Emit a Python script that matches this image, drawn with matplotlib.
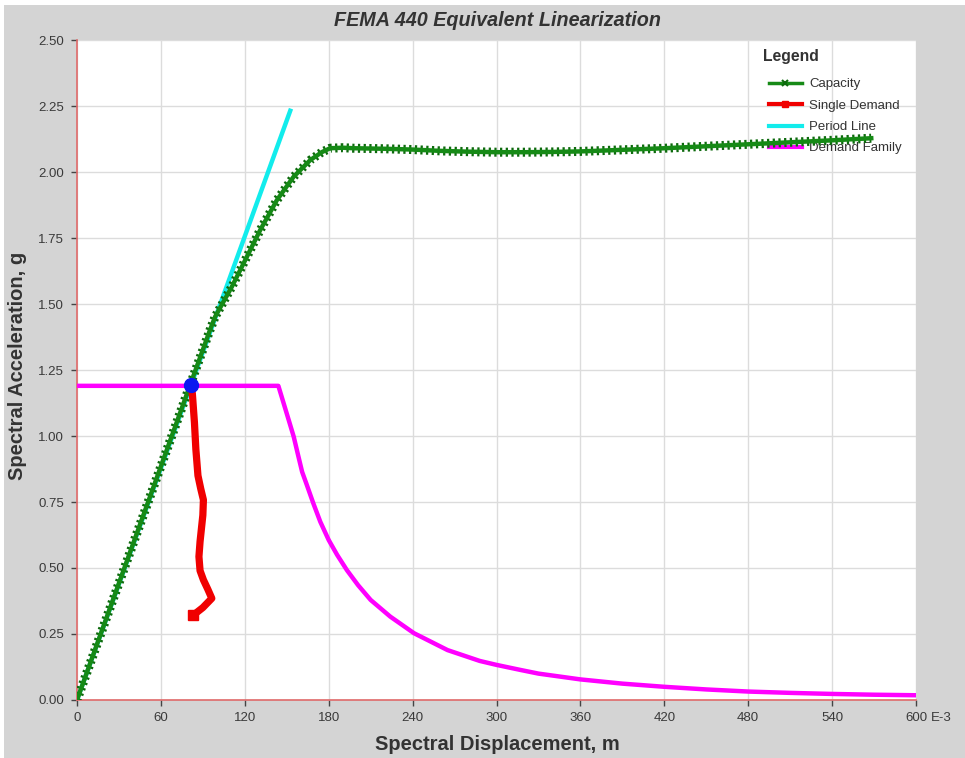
import matplotlib
matplotlib.use("Agg")
import matplotlib.pyplot as plt
from matplotlib.lines import Line2D
from matplotlib.patches import Rectangle

plt.rcParams['font.family'] = ['Liberation Sans', 'DejaVu Sans']

# ---------------- data (Sd in mm = E-3 m, Sa in g) ----------------
cap_sd = [0, 20, 40, 60, 80, 95, 98.8, 110.8, 121.5, 131, 143, 154.9, 166.8, 175,
          181, 190, 198, 220, 240, 260, 280, 300, 320, 340, 360, 380, 400, 420,
          440, 460, 480, 500, 520, 540, 568]
cap_sa = [0, 0.295, 0.59, 0.885, 1.18, 1.40, 1.452, 1.566, 1.679, 1.78, 1.894, 1.982,
          2.045, 2.075, 2.09, 2.092, 2.09, 2.088, 2.085, 2.08, 2.077, 2.075, 2.075,
          2.076, 2.078, 2.082, 2.086, 2.09, 2.095, 2.10, 2.105, 2.11, 2.115, 2.12, 2.128]

single_sd = [81.5, 82.5, 84.0, 85.0, 86.5, 88.5, 90.4, 90.0, 89.0, 88.0, 87.2,
             88.0, 90.4, 93.5, 96.4, 90.0, 83.3]
single_sa = [1.19, 1.16, 1.05, 0.95, 0.85, 0.80, 0.758, 0.70, 0.65, 0.60, 0.543,
             0.49, 0.455, 0.42, 0.385, 0.35, 0.322]

period_sd = [0, 152.5]
period_sa = [0, 2.232]

family_sd = [0, 144, 148, 152, 155, 158, 161, 164, 169, 174, 180, 186, 193, 201,
             210, 224, 241, 265, 288, 300, 317, 330, 360, 390, 420, 450, 480, 510,
             540, 570, 600]
family_sa = [1.19, 1.19, 1.12, 1.05, 0.997, 0.93, 0.864, 0.82, 0.745, 0.675, 0.606,
             0.55, 0.492, 0.435, 0.379, 0.316, 0.253, 0.189, 0.148, 0.133, 0.114,
             0.10, 0.078, 0.062, 0.050, 0.040, 0.032, 0.027, 0.023, 0.020, 0.018]

perf_sd = [81.5]
perf_sa = [1.193]

x_ticks = [0, 60, 120, 180, 240, 300, 360, 420, 480, 540, 600]
y_ticks = [0.00, 0.25, 0.50, 0.75, 1.00, 1.25, 1.50, 1.75, 2.00, 2.25, 2.50]

title = "FEMA 440 Equivalent Linearization"
xlabel = "Spectral Displacement, m"
ylabel = "Spectral Acceleration, g"
legend_title = "Legend"
labels = ["Capacity", "Single Demand", "Period Line", "Demand Family"]

# ---------------- figure ----------------
W, H = 965, 758
fig = plt.figure(figsize=(W / 100, H / 100), dpi=100, facecolor='#d4d4d4')

# thin white border on top and left
fig.patches.append(Rectangle((0, 1 - 5 / H), 1, 5 / H, transform=fig.transFigure,
                             facecolor='white', edgecolor='none', zorder=-1))
fig.patches.append(Rectangle((0, 0), 4 / W, 1, transform=fig.transFigure,
                             facecolor='white', edgecolor='none', zorder=-1))

L, R, T, B = 77, 916, 40, 700
ax = fig.add_axes([L / W, 1 - B / H, (R - L) / W, (B - T) / H])
ax.set_facecolor('white')
ax.set_xlim(0, 600)
ax.set_ylim(0, 2.5)

ax.set_xticks(x_ticks)
ax.set_yticks(y_ticks)
ax.set_xticklabels([str(v) for v in x_ticks])
ax.set_yticklabels([f"{v:.2f}" for v in y_ticks])
ax.tick_params(axis='both', direction='out', length=4.5, width=1, color='#444444',
               labelsize=9.5, labelcolor='#3a3a3a')
ax.tick_params(axis='y', pad=5)
ax.tick_params(axis='x', pad=4)
ax.grid(True, color='#dcdcdc', linewidth=1, zorder=0)
ax.set_axisbelow(True)

for s in ['top', 'right']:
    ax.spines[s].set_visible(False)
for s in ['left', 'bottom']:
    ax.spines[s].set_color('#e06a6a')
    ax.spines[s].set_linewidth(1.2)

# Demand family
ax.plot(family_sd, family_sa, color='#ff00ff', lw=3.2, zorder=3,
        solid_joinstyle='round')
# Period line
ax.plot(period_sd, period_sa, color='#12ecec', lw=3.2, zorder=4)
# Capacity: dense x markers look -> dark dashed band + green core
ax.plot(cap_sd, cap_sa, color='#0d6a0d', lw=6.5, dashes=(0.25, 0.38), zorder=5,
        solid_joinstyle='round')
ax.plot(cap_sd, cap_sa, color='#168a16', lw=3.2, zorder=5.5)
# Single demand
ax.plot(single_sd, single_sa, color='#f00000', lw=5.2, zorder=6,
        marker='s', markersize=6.5, markevery=[len(single_sd) - 1],
        solid_capstyle='round', solid_joinstyle='round')
# Performance point
ax.plot(perf_sd, perf_sa, 'o', color='#0a18f0', markersize=10, zorder=7)

# Legend
handles = [
    Line2D([], [], color='#168a16', lw=2.5, marker='x', markersize=5,
           markeredgecolor='#0d6a0d', markeredgewidth=1.5),
    Line2D([], [], color='#f00000', lw=3, marker='s', markersize=5),
    Line2D([], [], color='#12ecec', lw=3),
    Line2D([], [], color='#ff00ff', lw=3),
]
leg = ax.legend(handles, labels, loc='upper left',
                bbox_to_anchor=(760 / W, 1 - 69 / H), bbox_transform=fig.transFigure,
                frameon=False, fontsize=9.5,
                handlelength=2.45, handletextpad=0.6,
                labelspacing=0.69, borderpad=0.2)
for t in leg.get_texts():
    t.set_color('#333333')
leg.set_zorder(2)
fig.text(763 / W, 1 - 57 / H, legend_title, ha='left', va='center', fontsize=11.3,
         fontweight='bold', color='#333333')

# Titles and labels
fig.text(497 / W, 1 - 20 / H, title, ha='center', va='center', fontsize=14.2,
         fontweight='bold', fontstyle='italic', color='#333333')
fig.text(497 / W, 1 - 745 / H, xlabel, ha='center', va='center', fontsize=14.5,
         fontweight='bold', color='#333333')
fig.text(18 / W, 1 - 366 / H, ylabel, ha='center', va='center', fontsize=14.5,
         fontweight='bold', color='#333333', rotation=90)
fig.text(931 / W, 1 - 718 / H, "E-3", ha='left', va='center', fontsize=9.5,
         color='#3a3a3a')

fig.savefig("out.png", dpi=100, facecolor=fig.get_facecolor())
